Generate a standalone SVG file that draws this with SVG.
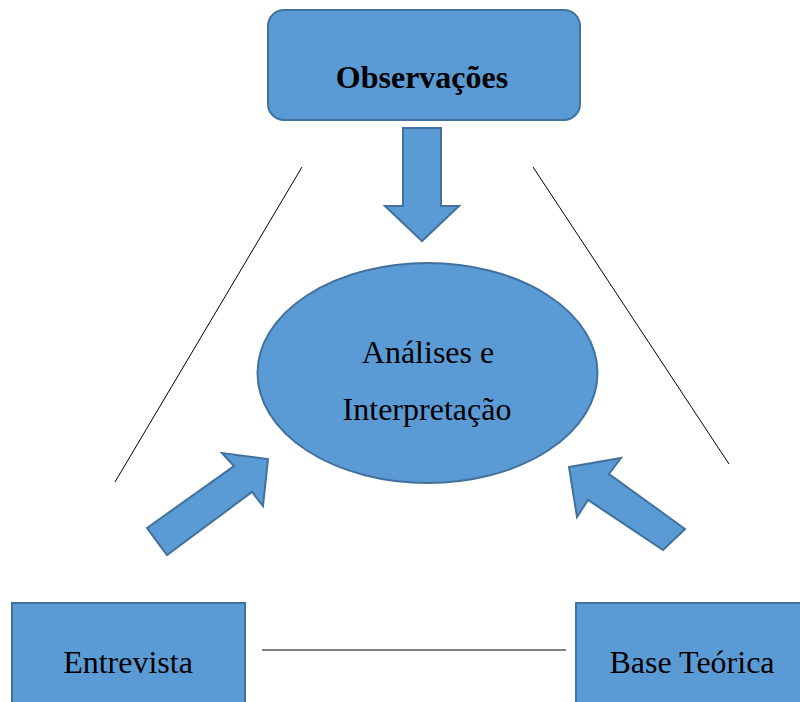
<svg xmlns="http://www.w3.org/2000/svg" width="800" height="702" viewBox="0 0 800 702">
<style>
.shape{fill:#5B9BD5;stroke:#41719C;stroke-width:2}
.t{font-family:"Liberation Serif","Times New Roman",serif;font-size:32px;fill:#000;text-anchor:middle}
.b{font-weight:bold}
.ln{stroke:#000;stroke-width:1;fill:none}
</style>
<rect width="800" height="702" fill="#fff"/>
<g id="connectors">
<line class="ln" x1="302" y1="167" x2="115" y2="482"/>
<line class="ln" x1="533" y1="167" x2="729" y2="464"/>
<line class="ln" x1="262" y1="650" x2="566" y2="650"/>
<polygon class="shape" points="403,128 441,128 441,206 459,206 422,241 385,206 403,206"/>
<polygon class="shape" points="147,528 234,466 222,453 268,459 263,506 252,492 167,555"/>
<polygon class="shape" points="569,467 621,458 609,474 685,529 663,550 588,500 577,517"/>
</g>
<g id="observacoes">
<rect class="shape" x="268" y="10" width="312" height="110" rx="16"/>
<text class="t b" x="422" y="88">Observações</text>
</g>
<g id="analises">
<ellipse class="shape" cx="427.5" cy="373" rx="170" ry="110"/>
<text class="t" x="428" y="363">Análises e</text>
<text class="t" x="427" y="420">Interpretação</text>
</g>
<g id="entrevista">
<rect class="shape" x="12" y="603" width="233" height="110"/>
<text class="t" x="128" y="673">Entrevista</text>
</g>
<g id="base">
<rect class="shape" x="576" y="603" width="240" height="110"/>
<text class="t" x="692" y="673">Base Teórica</text>
</g>
</svg>
